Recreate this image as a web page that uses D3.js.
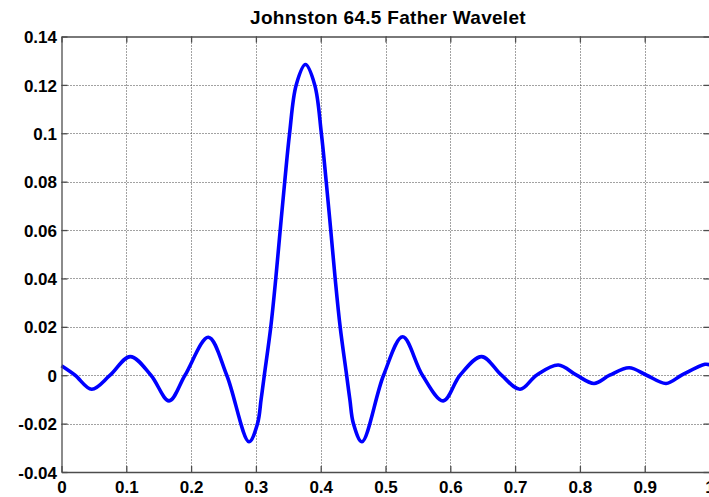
<!DOCTYPE html>
<html>
<head>
<meta charset="utf-8">
<script src="https://cdn.jsdelivr.net/npm/d3@7"></script>
<style>
  html, body { margin: 0; padding: 0; background: #fff; }
  svg { display: block; }
  text { font-family: "Liberation Sans", Arial, Helvetica, sans-serif; font-weight: bold; fill: #000; }
</style>
</head>
<body>
<svg id="chart" width="709" height="497"></svg>
<script>
const titleText = "Johnston 64.5 Father Wavelet";
const xTicks = [0, 0.1, 0.2, 0.3, 0.4, 0.5, 0.6, 0.7, 0.8, 0.9, 1];
const yTicks = [-0.04, -0.02, 0, 0.02, 0.04, 0.06, 0.08, 0.1, 0.12, 0.14];
const xTickLabels = ["0", "0.1", "0.2", "0.3", "0.4", "0.5", "0.6", "0.7", "0.8", "0.9", "1"];
const yTickLabels = ["-0.04", "-0.02", "0", "0.02", "0.04", "0.06", "0.08", "0.1", "0.12", "0.14"];

// Curve samples (x position, wavelet value)
const waveX = [0, 0.021, 0.0466, 0.075, 0.106, 0.138, 0.166, 0.1906, 0.2266, 0.255,
  0.2894, 0.3025, 0.3080, 0.3130, 0.3230, 0.3307, 0.3375, 0.3445,
  0.3520, 0.3622, 0.3765, 0.3908, 0.4010, 0.4085, 0.4155, 0.4223, 0.4300, 0.4400,
  0.4450, 0.4505, 0.4636, 0.497,
  0.5265, 0.557, 0.589, 0.615, 0.6484, 0.679, 0.7076, 0.733, 0.7667, 0.795,
  0.8218, 0.846, 0.876, 0.903, 0.933, 0.957, 0.993, 1.0];
const waveY = [0.0039, 0, -0.0058, 0, 0.0077, 0, -0.0106, 0, 0.0157, 0,
  -0.0275, -0.0200, -0.0100, 0, 0.02, 0.04, 0.06, 0.08,
  0.10, 0.12, 0.1284, 0.12, 0.10, 0.08, 0.06, 0.04, 0.02, 0,
  -0.0100, -0.0200, -0.0275, 0,
  0.0159, 0, -0.0106, 0, 0.0077, 0, -0.0058, 0, 0.0042, 0,
  -0.0034, 0, 0.0031, 0, -0.0034, 0, 0.0045, 0.0043];

const svg = d3.select("#chart");
const mLeft = 61.5, mRight = 709.5, mTop = 36.5, mBottom = 472;

const x = d3.scaleLinear().domain([0, 1]).range([mLeft, mRight]);
const y = d3.scaleLinear().domain([-0.04, 0.14]).range([mBottom, mTop]);

// Grid
const grid = svg.append("g");
grid.selectAll(".vg").data(xTicks.slice(1, -1)).enter().append("line")
  .attr("x1", d => Math.round(x(d)) + 0.5).attr("x2", d => Math.round(x(d)) + 0.5)
  .attr("y1", mTop).attr("y2", mBottom)
  .attr("stroke", "#444").attr("stroke-width", 1).attr("stroke-dasharray", "1,2");
grid.selectAll(".hg").data(yTicks.slice(1, -1)).enter().append("line")
  .attr("y1", d => Math.round(y(d)) + 0.5).attr("y2", d => Math.round(y(d)) + 0.5)
  .attr("x1", mLeft).attr("x2", mRight)
  .attr("stroke", "#444").attr("stroke-width", 1).attr("stroke-dasharray", "1,2");

// Curve
const line = d3.line().x((d, i) => x(waveX[i])).y(d => y(d)).curve(d3.curveCatmullRom.alpha(0.5));
svg.append("path").datum(waveY)
  .attr("d", line)
  .attr("fill", "none")
  .attr("stroke", "#0000ff")
  .attr("stroke-width", 3.6)
  .attr("stroke-linejoin", "round");

// Axes (box with inward ticks)
const tickLen = 6;
const fmtX = (d, i) => xTickLabels[i];
const fmtY = (d, i) => yTickLabels[i];

const axB = svg.append("g").attr("transform", `translate(0,${mBottom})`)
  .call(d3.axisBottom(x).tickValues(xTicks).tickFormat(fmtX).tickSizeInner(-tickLen).tickSizeOuter(0));
const axT = svg.append("g").attr("transform", `translate(0,${mTop})`)
  .call(d3.axisTop(x).tickValues(xTicks).tickFormat("").tickSizeInner(-tickLen).tickSizeOuter(0));
const axL = svg.append("g").attr("transform", `translate(${mLeft},0)`)
  .call(d3.axisLeft(y).tickValues(yTicks).tickFormat(fmtY).tickSizeInner(-tickLen).tickSizeOuter(0));
const axR = svg.append("g").attr("transform", `translate(${mRight},0)`)
  .call(d3.axisRight(y).tickValues(yTicks).tickFormat("").tickSizeInner(-tickLen).tickSizeOuter(0));

[axB, axT, axL, axR].forEach(a => {
  a.select(".domain").attr("stroke", "#4d4d4d").attr("stroke-width", 1.3);
  a.selectAll(".tick line").attr("stroke", "#4d4d4d").attr("stroke-width", 1.3);
  a.selectAll("text").attr("font-size", 17).attr("font-weight", "bold")
    .attr("font-family", "'Liberation Sans', Arial, sans-serif").attr("fill", "#000");
});
axB.selectAll(".tick text").attr("dy", null).attr("y", 20.5);
axL.selectAll(".tick text").attr("x", -4.5).attr("dy", "0.36em");

// Title
svg.append("text")
  .attr("x", 388)
  .attr("y", 24)
  .attr("text-anchor", "middle")
  .attr("font-size", 19)
  .attr("letter-spacing", 0.3)
  .text(titleText);
</script>
</body>
</html>
